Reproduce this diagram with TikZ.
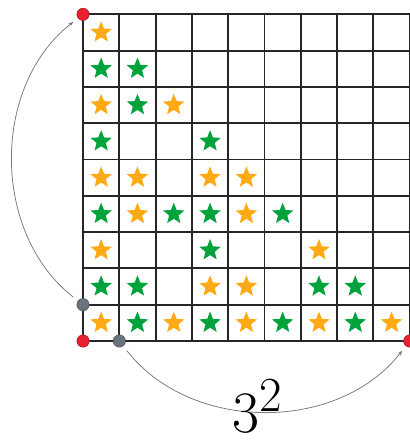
\documentclass[tikz,border=0pt]{standalone}
\usepackage{xcolor}
\usepackage{tikz}
\usetikzlibrary{arrows.meta,shapes.geometric}
\definecolor{stgold}{HTML}{FFA915}
\definecolor{stgreen}{HTML}{00A23B}
\definecolor{dotred}{HTML}{E8202F}
\definecolor{dotgrey}{HTML}{6B737E}
\definecolor{arcgrey}{HTML}{7A7A7A}

\begin{document}
\begin{tikzpicture}[
  gridln/.style={draw=black!85,line width=1.5pt},
  starnd/.style={star,star points=5,star point ratio=2.3,minimum size=0.62cm,inner sep=0pt,draw=none},
  gold/.style={starnd,fill=stgold},
  leaf/.style={starnd,fill=stgreen},
  reddot/.style={circle,fill=dotred,draw=dotred!70!black,line width=0.4pt,minimum size=0.34cm,inner sep=0pt},
  greydot/.style={reddot,fill=dotgrey,draw=dotgrey!70!black},
  arc/.style={-{Stealth[length=1.4mm,width=1mm]},draw=arcgrey,line width=0.6pt,shorten <=1.6mm,shorten >=1.6mm}
]
\useasboundingbox (-2.287,-2.837) rectangle (8.98,9.394);

\draw[gridln] (0,0) grid (9,9);

% stars, top row first
\node[gold] (s11) at (0.5,8.5) {};
\node[leaf] (s21) at (0.5,7.5) {}; \node[leaf] (s22) at (1.5,7.5) {};
\node[gold] (s31) at (0.5,6.5) {}; \node[leaf] (s32) at (1.5,6.5) {}; \node[gold] (s33) at (2.5,6.5) {};
\node[leaf] (s41) at (0.5,5.5) {}; \node[leaf] (s44) at (3.5,5.5) {};
\node[gold] (s51) at (0.5,4.5) {}; \node[gold] (s52) at (1.5,4.5) {}; \node[gold] (s54) at (3.5,4.5) {}; \node[gold] (s55) at (4.5,4.5) {};
\node[leaf] (s61) at (0.5,3.5) {}; \node[gold] (s62) at (1.5,3.5) {}; \node[leaf] (s63) at (2.5,3.5) {};
\node[leaf] (s64) at (3.5,3.5) {}; \node[gold] (s65) at (4.5,3.5) {}; \node[leaf] (s66) at (5.5,3.5) {};
\node[gold] (s71) at (0.5,2.5) {}; \node[leaf] (s74) at (3.5,2.5) {}; \node[gold] (s77) at (6.5,2.5) {};
\node[leaf] (s81) at (0.5,1.5) {}; \node[leaf] (s82) at (1.5,1.5) {}; \node[gold] (s84) at (3.5,1.5) {};
\node[gold] (s85) at (4.5,1.5) {}; \node[leaf] (s87) at (6.5,1.5) {}; \node[leaf] (s88) at (7.5,1.5) {};
\node[gold] (s91) at (0.5,0.5) {}; \node[leaf] (s92) at (1.5,0.5) {}; \node[gold] (s93) at (2.5,0.5) {};
\node[leaf] (s94) at (3.5,0.5) {}; \node[gold] (s95) at (4.5,0.5) {}; \node[leaf] (s96) at (5.5,0.5) {};
\node[gold] (s97) at (6.5,0.5) {}; \node[leaf] (s98) at (7.5,0.5) {}; \node[gold] (s99) at (8.5,0.5) {};

% corner and step points
\node[reddot] (tl) at (0,9) {};
\node[reddot] (bl) at (0,0) {};
\node[reddot] (br) at (9,0) {};
\node[greydot] (gl) at (0,1) {};
\node[greydot] (gb) at (1,0) {};

\draw[arc] (gl) to[bend left=52] (tl);
\draw[arc] (gb) to[bend right=52] (br);

\node[font=\Huge,scale=1.85,inner sep=0pt,anchor=base west] (sq) at (4.10,-2.53) {$3^2$};
\end{tikzpicture}
\end{document}
